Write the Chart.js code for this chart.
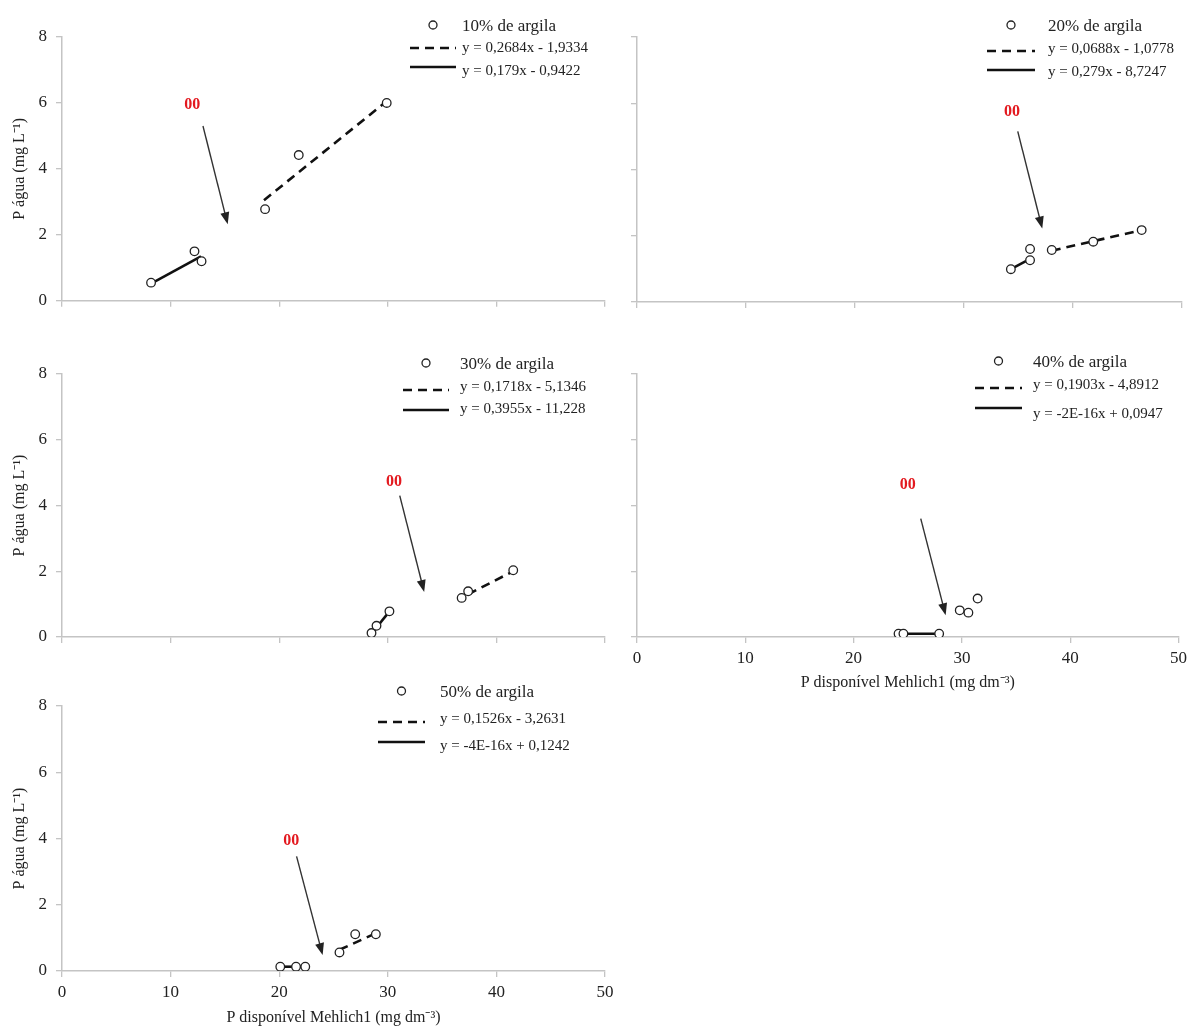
<!DOCTYPE html>
<html lang="pt-BR">
<head>
<meta charset="utf-8">
<title>P água x P disponível Mehlich1</title>
<script src="https://cdn.jsdelivr.net/npm/chart.js@4.4.1/dist/chart.umd.min.js"></script>
<style>
  html, body { margin: 0; padding: 0; background: #fff; }
  #lienzo { position: relative; width: 1192px; height: 1027px; overflow: hidden; }
  .panel { position: absolute; }
</style>
</head>
<body>
<div id="lienzo">
  <div class="panel" style="left:0;top:0;width:620px;height:320px"><canvas id="g10"></canvas></div>
  <div class="panel" style="left:620px;top:0;width:572px;height:320px"><canvas id="g20"></canvas></div>
  <div class="panel" style="left:0;top:330px;width:620px;height:330px"><canvas id="g30"></canvas></div>
  <div class="panel" style="left:620px;top:330px;width:572px;height:370px"><canvas id="g40"></canvas></div>
  <div class="panel" style="left:0;top:680px;width:620px;height:347px"><canvas id="g50"></canvas></div>
</div>
<script>
// Ejes comunes
const ticksX = [0, 10, 20, 30, 40, 50];
const ticksY = [0, 2, 4, 6, 8];
const tituloY = 'P água (mg L⁻¹)';
const tituloX = 'P disponível Mehlich1 (mg dm⁻³)';

// 10% de argila
const x10 = [8.2, 12.2, 12.85, 18.7, 21.8, 29.9];
const y10 = [0.55, 1.5, 1.2, 2.78, 4.42, 6.0];
const tracX10 = [18.6, 29.7], tracY10 = [3.05, 6.0];
const solX10 = [8.2, 12.8], solY10 = [0.52, 1.35];
const leyenda10 = ['10% de argila', 'y = 0,2684x - 1,9334', 'y = 0,179x - 0,9422'];
const nota10 = { texto: [12.0, 5.93], de: [12.98, 5.3], a: [15.26, 2.32] };

// 20% de argila
const x20 = [34.3, 36.06, 36.06, 38.05, 41.86, 46.3];
const y20 = [0.99, 1.6, 1.26, 1.57, 1.82, 2.17];
const tracX20 = [38.05, 46.3], tracY20 = [1.55, 2.17];
const solX20 = [34.3, 36.06], solY20 = [0.99, 1.3];
const leyenda20 = ['20% de argila', 'y = 0,0688x - 1,0778', 'y = 0,279x - 8,7247'];
const nota20 = { texto: [34.4, 5.73], de: [34.93, 5.15], a: [37.18, 2.22] };

// 30% de argila
const x30 = [28.5, 28.96, 30.15, 36.8, 37.4, 41.55];
const y30 = [0.12, 0.34, 0.78, 1.19, 1.39, 2.03];
const tracX30 = [37.4, 41.55], tracY30 = [1.3, 2.0];
const solX30 = [28.5, 30.15], solY30 = [0.1, 0.78];
const leyenda30 = ['30% de argila', 'y = 0,1718x - 5,1346', 'y = 0,3955x - 11,228'];
const nota30 = { texto: [30.56, 4.73], de: [31.1, 4.3], a: [33.35, 1.37] };

// 40% de argila
const x40 = [24.15, 24.6, 27.9, 29.8, 30.6, 31.45];
const y40 = [0.1, 0.1, 0.1, 0.81, 0.74, 1.17];
const tracX40 = [], tracY40 = [];
const solX40 = [24.15, 27.9], solY40 = [0.1, 0.1];
const leyenda40 = ['40% de argila', 'y = 0,1903x - 4,8912', 'y = -2E-16x + 0,0947'];
const nota40 = { texto: [25.0, 4.64], de: [26.2, 3.6], a: [28.5, 0.66] };

// 50% de argila
const x50 = [20.1, 21.55, 22.4, 25.55, 27.0, 28.9];
const y50 = [0.13, 0.13, 0.13, 0.56, 1.11, 1.11];
const tracX50 = [25.55, 28.9], tracY50 = [0.64, 1.14];
const solX50 = [20.1, 22.4], solY50 = [0.13, 0.13];
const leyenda50 = ['50% de argila', 'y = 0,1526x - 3,2631', 'y = -4E-16x + 0,1242'];
const nota50 = { texto: [21.1, 3.93], de: [21.6, 3.46], a: [24.0, 0.48] };

const FUENTE = "'Liberation Serif', 'Times New Roman', serif";
const GRIS = '#c4c4c4';

function pares(xs, ys) {
    return xs.map((v, i) => ({ x: v, y: ys[i] }));
}

// Dibuja la leyenda, el "00" y la flecha
const pluginAnotaciones = {
    id: 'anotaciones',
    afterDatasetsDraw(chart, args, o) {
        const ctx = chart.ctx;
        const sx = chart.scales.x, sy = chart.scales.y;

        // flecha
        const x1 = sx.getPixelForValue(o.nota.de[0]), y1 = sy.getPixelForValue(o.nota.de[1]);
        const x2 = sx.getPixelForValue(o.nota.a[0]), y2 = sy.getPixelForValue(o.nota.a[1]);
        const ang = Math.atan2(y2 - y1, x2 - x1);
        ctx.save();
        ctx.strokeStyle = '#333';
        ctx.fillStyle = '#222';
        ctx.lineWidth = 1.4;
        ctx.beginPath();
        ctx.moveTo(x1, y1);
        ctx.lineTo(x2 - 9 * Math.cos(ang), y2 - 9 * Math.sin(ang));
        ctx.stroke();
        ctx.beginPath();
        ctx.moveTo(x2, y2);
        ctx.lineTo(x2 - 12 * Math.cos(ang) + 4.5 * Math.sin(ang), y2 - 12 * Math.sin(ang) - 4.5 * Math.cos(ang));
        ctx.lineTo(x2 - 12 * Math.cos(ang) - 4.5 * Math.sin(ang), y2 - 12 * Math.sin(ang) + 4.5 * Math.cos(ang));
        ctx.closePath();
        ctx.fill();

        // texto "00"
        ctx.font = 'bold 16px ' + FUENTE;
        ctx.fillStyle = '#e3191f';
        ctx.textAlign = 'center';
        ctx.textBaseline = 'middle';
        ctx.fillText('00', sx.getPixelForValue(o.nota.texto[0]), sy.getPixelForValue(o.nota.texto[1]));

        // leyenda
        const c = o.caja;
        const cx = (c.x1 + c.x2) / 2;
        ctx.strokeStyle = '#222';
        ctx.lineWidth = 1.3;
        ctx.beginPath();
        ctx.arc(cx, c.filas[0] - 2, 4, 0, Math.PI * 2);
        ctx.stroke();

        ctx.strokeStyle = '#111';
        ctx.lineWidth = 2.6;
        ctx.setLineDash([9, 6]);
        ctx.beginPath();
        ctx.moveTo(c.x1, c.lineas[0]);
        ctx.lineTo(c.x2, c.lineas[0]);
        ctx.stroke();
        ctx.setLineDash([]);
        ctx.beginPath();
        ctx.moveTo(c.x1, c.lineas[1]);
        ctx.lineTo(c.x2, c.lineas[1]);
        ctx.stroke();

        ctx.fillStyle = '#222';
        ctx.textAlign = 'left';
        o.leyenda.forEach((t, i) => {
            ctx.font = (i === 0 ? '17px ' : '15px ') + FUENTE;
            ctx.fillText(t, c.tx, c.filas[i]);
        });
        ctx.restore();
    }
};

function crearPanel(p) {
    const escalaComun = {
        type: 'linear',
        grid: { display: true, drawOnChartArea: false, drawTicks: true, tickLength: 6, color: GRIS, lineWidth: 1.3 },
        border: { display: true, color: GRIS, width: 1.5 },
        ticks: { color: '#222', font: { family: FUENTE, size: 17 } }
    };

    new Chart(document.getElementById(p.id), {
        type: 'scatter',
        data: {
            datasets: [
                {
                    data: pares(p.x, p.y),
                    pointStyle: 'circle', pointRadius: 4.3,
                    pointBorderColor: '#222', pointBackgroundColor: '#fff', pointBorderWidth: 1.3,
                    showLine: false, order: 0
                },
                {
                    data: pares(p.trX, p.trY),
                    showLine: true, pointRadius: 0, borderColor: '#111', borderWidth: 2.6,
                    borderDash: [9, 6], order: 1
                },
                {
                    data: pares(p.soX, p.soY),
                    showLine: true, pointRadius: 0, borderColor: '#111', borderWidth: 2.6, order: 1
                }
            ]
        },
        options: {
            responsive: true,
            maintainAspectRatio: false,
            animation: false,
            layout: { padding: { top: p.arriba, right: p.derecha, left: 0, bottom: 0 } },
            plugins: {
                legend: { display: false },
                tooltip: { enabled: false },
                anotaciones: { nota: p.nota, leyenda: p.leyenda, caja: p.caja }
            },
            scales: {
                x: {
                    ...escalaComun,
                    min: ticksX[0], max: ticksX[ticksX.length - 1],
                    afterBuildTicks: s => { s.ticks = ticksX.map(v => ({ value: v })); },
                    afterFit: s => { s.height = p.altoX; },
                    ticks: { ...escalaComun.ticks, display: p.verX, padding: 5, maxRotation: 0 },
                    title: {
                        display: p.verX, text: tituloX, color: '#222',
                        font: { family: FUENTE, size: 16 }, padding: { top: 0, bottom: p.padTitX }
                    }
                },
                y: {
                    ...escalaComun,
                    min: ticksY[0], max: ticksY[ticksY.length - 1],
                    afterBuildTicks: s => { s.ticks = ticksY.map(v => ({ value: v })); },
                    afterFit: s => { s.width = p.anchoY; },
                    ticks: { ...escalaComun.ticks, display: p.verY, padding: 9 },
                    title: {
                        display: p.verY, text: tituloY, color: '#222',
                        font: { family: FUENTE, size: 16 }, padding: { top: 10, bottom: 0 }
                    }
                }
            }
        },
        plugins: [pluginAnotaciones]
    });
}

// Paneles (posición de la leyenda en px del canvas)
const paneles = [
    { id: 'g10', x: x10, y: y10, trX: tracX10, trY: tracY10, soX: solX10, soY: solY10, leyenda: leyenda10, nota: nota10,
      verY: true, verX: false, anchoY: 62, altoX: 18, arriba: 37, derecha: 15, padTitX: 0,
      caja: { x1: 410, x2: 456, tx: 462, filas: [27, 48, 71], lineas: [48, 67] } },
    { id: 'g20', x: x20, y: y20, trX: tracX20, trY: tracY20, soX: solX20, soY: solY20, leyenda: leyenda20, nota: nota20,
      verY: false, verX: false, anchoY: 17, altoX: 18, arriba: 37, derecha: 10, padTitX: 0,
      caja: { x1: 367, x2: 415, tx: 428, filas: [27, 49, 72], lineas: [51, 70] } },
    { id: 'g30', x: x30, y: y30, trX: tracX30, trY: tracY30, soX: solX30, soY: solY30, leyenda: leyenda30, nota: nota30,
      verY: true, verX: false, anchoY: 62, altoX: 23, arriba: 44, derecha: 15, padTitX: 0,
      caja: { x1: 403, x2: 449, tx: 460, filas: [35, 57, 79], lineas: [60, 80] } },
    { id: 'g40', x: x40, y: y40, trX: tracX40, trY: tracY40, soX: solX40, soY: solY40, leyenda: leyenda40, nota: nota40,
      verY: false, verX: true, anchoY: 17, altoX: 63, arriba: 44, derecha: 10, padTitX: 8,
      caja: { x1: 355, x2: 402, tx: 413, filas: [33, 55, 84], lineas: [58, 78] } },
    { id: 'g50', x: x50, y: y50, trX: tracX50, trY: tracY50, soX: solX50, soY: solY50, leyenda: leyenda50, nota: nota50,
      verY: true, verX: true, anchoY: 62, altoX: 56, arriba: 26, derecha: 15, padTitX: 0,
      caja: { x1: 378, x2: 425, tx: 440, filas: [13, 39, 66], lineas: [42, 62] } }
];

paneles.forEach(crearPanel);
</script>
</body>
</html>
